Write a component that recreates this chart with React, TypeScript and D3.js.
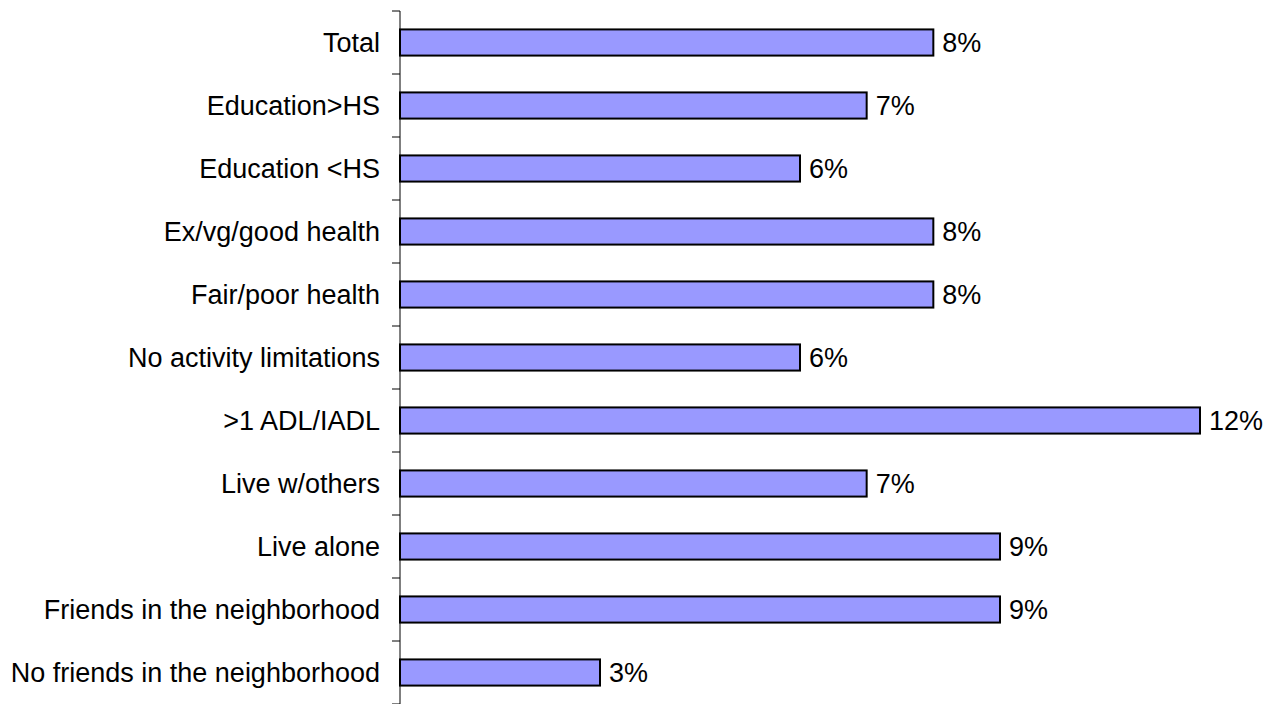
import React from "react";
import * as d3 from "d3";

const categories = [
  "Total",
  "Education>HS",
  "Education <HS",
  "Ex/vg/good health",
  "Fair/poor health",
  "No activity limitations",
  ">1 ADL/IADL",
  "Live w/others",
  "Live alone",
  "Friends in the neighborhood",
  "No friends in the neighborhood",
];
const values = [8, 7, 6, 8, 8, 6, 12, 7, 9, 9, 3];
const valueLabels = ["8%", "7%", "6%", "8%", "8%", "6%", "12%", "7%", "9%", "9%", "3%"];

const W = 1273;
const H = 704;
const axisX = 400;
const top = 11;
const bottom = 704;

export default function App() {
  const x = d3.scaleLinear().domain([0, 12]).range([axisX, 1200]);
  const y = d3
    .scaleBand<string>()
    .domain(categories)
    .range([top, bottom])
    .paddingInner(0.585)
    .paddingOuter(0.2925);
  const step = y.step();
  const font = "Arial, 'Liberation Sans', sans-serif";
  const tickYs = d3.range(categories.length + 1).map((i) => top + i * step);
  return (
    <svg
      width={W}
      height={H}
      style={{ position: "absolute", left: 0, top: 0, background: "#fff" }}
    >
      <line x1={axisX} x2={axisX} y1={top} y2={bottom} stroke="#000" strokeWidth={1} />
      {tickYs.map((t, i) => (
        <line key={i} x1={axisX - 8} x2={axisX} y1={t} y2={t} stroke="#000" strokeWidth={1} />
      ))}
      {categories.map((c, i) => {
        const by = y(c)!;
        const bh = y.bandwidth();
        const cy = by + bh / 2;
        return (
          <g key={c}>
            <rect
              x={x(0)}
              y={by}
              width={x(values[i]) - x(0)}
              height={bh}
              fill="#9999FF"
              stroke="#000"
              strokeWidth={2}
            />
            <text
              x={380}
              y={cy}
              textAnchor="end"
              dominantBaseline="central"
              fontFamily={font}
              fontSize={27}
              fill="#000"
            >
              {c}
            </text>
            <text
              x={x(values[i]) + 9}
              y={cy}
              dominantBaseline="central"
              fontFamily={font}
              fontSize={27}
              fill="#000"
            >
              {valueLabels[i]}
            </text>
          </g>
        );
      })}
    </svg>
  );
}
